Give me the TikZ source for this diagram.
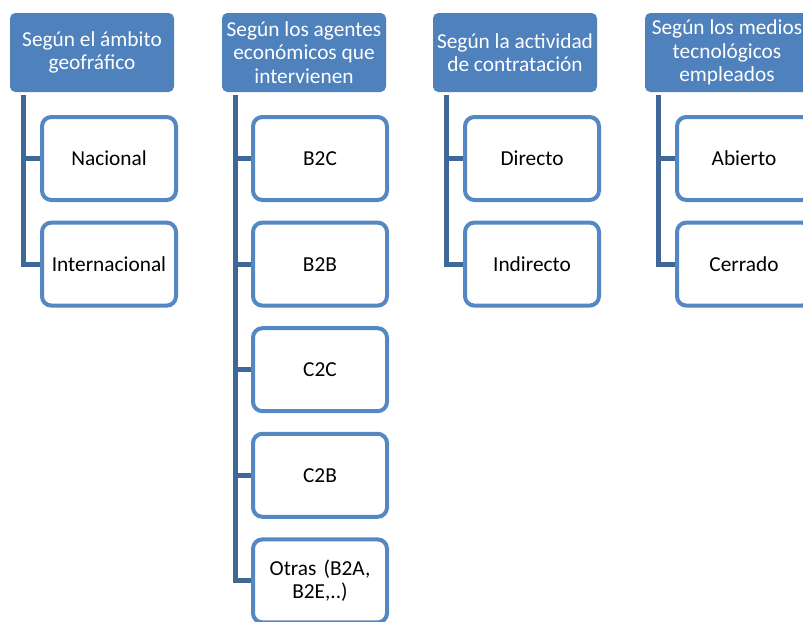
\documentclass[tikz,border=0pt]{standalone}
\usepackage{fontspec}
\setmainfont{Carlito}
\definecolor{headblue}{HTML}{4F81BD}
\definecolor{boxblue}{HTML}{5587C3}
\definecolor{lineblue}{HTML}{3F6797}

\begin{document}
\begin{tikzpicture}[x=0.75pt,y=-0.75pt,
    header/.style={fill=headblue,text=white,rounded corners=4pt,
      minimum width=123pt,minimum height=59.25pt,inner sep=1pt,align=center,
      font=\fontsize{16}{17.6}\selectfont},
    child/.style={draw=boxblue,fill=white,line width=3pt,rounded corners=7pt,
      minimum width=100.5pt,minimum height=62.25pt,text width=92pt,align=center,
      font=\fontsize{16}{17.6}\selectfont},
    conn/.style={draw=lineblue,line width=3.75pt}]
       \useasboundingbox (0,0) rectangle (803,621);
       % column heads
       \node[header] (h1) at ( 92,52.5) {Según el ámbito\\geofráfico};
       \node[header] (h2) at (304,52.5) {Según los agentes\\económicos que\\intervienen};
       \node[header] (h3) at (515,52.5) {Según la actividad\\de contratación};
       \node[header] (h4) at (727,52.5) {Según los medios\\tecnológicos\\empleados};
       % children
       \foreach \t [count=\k] in {Nacional,Internacional}
        \node[child] (c1\k) at (109,{158.5+105.6*(\k-1)}) {\t};
       \foreach \t [count=\k] in {B2C,B2B,C2C,C2B,{Otras (B2A,\\B2E,..)}}
        \node[child] (c2\k) at (320,{158.5+105.6*(\k-1)}) {\t};
       \foreach \t [count=\k] in {Directo,Indirecto}
        \node[child] (c3\k) at (532,{158.5+105.6*(\k-1)}) {\t};
       \foreach \t [count=\k] in {Abierto,Cerrado}
        \node[child] (c4\k) at (744,{158.5+105.6*(\k-1)}) {\t};
       % connectors
       \foreach \c/\n in {1/2,2/5,3/2,4/2}
        \foreach \k in {1,...,\n}
         \draw[conn] ([xshift=10.5pt,yshift=-2.25pt]h\c.south west) |- (c\c\k.west);
      \end{tikzpicture}
\end{document}
